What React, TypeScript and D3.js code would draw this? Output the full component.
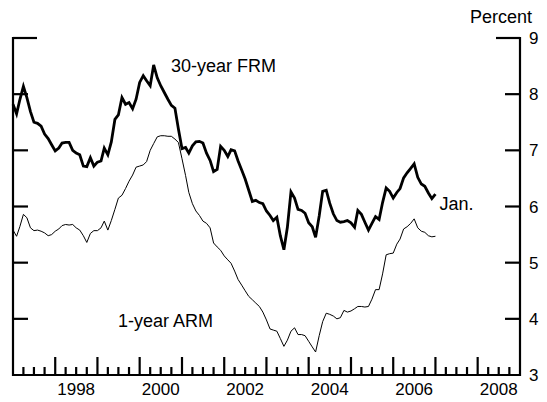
import React from 'react';
import * as d3 from 'd3';

// monthly averages, Jan 1997 .. Jan 2007
const startMonth = new Date(1997, 0, 1);

const frm = [
  7.82, 7.65, 7.90, 8.14, 7.94, 7.69, 7.50, 7.48, 7.43, 7.29, 7.21, 7.10,
  6.99, 7.04, 7.13, 7.14, 7.14, 7.00, 6.95, 6.92, 6.72, 6.71, 6.87, 6.72,
  6.79, 6.81, 7.04, 6.92, 7.15, 7.55, 7.63, 7.94, 7.82, 7.85, 7.74, 7.91,
  8.21, 8.33, 8.24, 8.15, 8.52, 8.29, 8.15, 8.03, 7.91, 7.80, 7.75, 7.38,
  7.03, 7.05, 6.95, 7.08, 7.15, 7.16, 7.13, 6.95, 6.82, 6.62, 6.66, 7.07,
  7.00, 6.89, 7.01, 6.99, 6.81, 6.65, 6.49, 6.29, 6.09, 6.11, 6.07, 6.05,
  5.92, 5.84, 5.75, 5.81, 5.48, 5.23, 5.63, 6.26, 6.15, 5.95, 5.93, 5.88,
  5.71, 5.64, 5.45, 5.83, 6.27, 6.29, 6.06, 5.87, 5.75, 5.72, 5.73, 5.75,
  5.71, 5.63, 5.93, 5.86, 5.72, 5.58, 5.70, 5.82, 5.77, 6.07, 6.33, 6.27,
  6.15, 6.25, 6.32, 6.51, 6.60, 6.68, 6.76, 6.52, 6.40, 6.36, 6.24, 6.14,
  6.22,
];

const arm = [
  5.58, 5.47, 5.64, 5.86, 5.80, 5.62, 5.57, 5.58, 5.56, 5.53, 5.48, 5.50,
  5.56, 5.60, 5.66, 5.68, 5.67, 5.68, 5.62, 5.58, 5.48, 5.36, 5.52, 5.57,
  5.57, 5.62, 5.74, 5.58, 5.75, 5.95, 6.15, 6.20, 6.32, 6.45, 6.56, 6.70,
  6.72, 6.74, 6.80, 7.00, 7.12, 7.24, 7.26, 7.26, 7.25, 7.25, 7.20, 7.14,
  6.85, 6.55, 6.25, 6.05, 5.92, 5.84, 5.74, 5.70, 5.62, 5.35, 5.28, 5.22,
  5.12, 5.05, 4.99, 4.85, 4.70, 4.60, 4.50, 4.40, 4.34, 4.28, 4.22, 4.12,
  3.98, 3.82, 3.80, 3.78, 3.65, 3.51, 3.62, 3.78, 3.84, 3.72, 3.72, 3.70,
  3.60, 3.50, 3.41, 3.70, 3.95, 4.10, 4.08, 4.05, 4.00, 4.02, 4.15, 4.12,
  4.14, 4.18, 4.22, 4.22, 4.21, 4.22, 4.35, 4.52, 4.52, 4.80, 5.14, 5.16,
  5.17, 5.33, 5.42, 5.60, 5.64, 5.70, 5.78, 5.62, 5.56, 5.54, 5.48, 5.46,
  5.47,
];

const yTicks = [3, 4, 5, 6, 7, 8, 9];
const yearLabels = [1998, 2000, 2002, 2004, 2006, 2008];

const W = 547;
const H = 402;
const left = 13;
const right = 520;
const top = 38;
const bottom = 375;
const font = 'Liberation Sans, Arial, sans-serif';

const App = () => {
  const x = d3.scaleTime()
    .domain([new Date(1997, 0, 1), new Date(2009, 0, 1)])
    .range([left, right]);
  const y = d3.scaleLinear().domain([3, 9]).range([bottom, top]);

  const dates = frm.map((_, i) => d3.timeMonth.offset(startMonth, i));
  const line = d3.line<number>()
    .x((_, i) => x(dates[i]))
    .y(d => y(d));

  // quarterly ticks, tall ones at the start of each year
  const quarters = d3.timeMonth.every(3)!
    .range(new Date(1997, 3, 1), new Date(2009, 0, 1));

  const last = frm.length - 1;

  return (
    <svg width={W} height={H} style={{ position: 'absolute', left: 0, top: 0 }}>
      <rect width={W} height={H} fill="#fff" />

      <path d={line(arm) || ''} fill="none" stroke="#000" strokeWidth={1} />
      <path d={line(frm) || ''} fill="none" stroke="#000" strokeWidth={2.8} />

      {/* frame */}
      <g stroke="#000" strokeWidth={2.2} fill="none">
        <line x1={left} x2={left} y1={top - 1} y2={bottom + 1} />
        <line x1={right} x2={right} y1={top - 1} y2={bottom + 1} />
        <line x1={left - 1} x2={right + 1} y1={bottom} y2={bottom} />
        {yTicks.filter(t => t > 3).map(t => {
          const len = t === 9 ? 24 : 15;
          return (
            <g key={t}>
              <line x1={left} x2={left + len} y1={y(t)} y2={y(t)} />
              <line x1={right - len} x2={right} y1={y(t)} y2={y(t)} />
            </g>
          );
        })}
        {quarters.map(d => {
          const len = d.getMonth() === 0 ? 18 : 8;
          return <line key={+d} x1={x(d)} x2={x(d)} y1={bottom} y2={bottom - len} />;
        })}
      </g>

      <g fontFamily={font} fontSize={17} fill="#000">
        {yTicks.map(t => (
          <text key={t} x={529} y={y(t)} dy="0.36em">{t}</text>
        ))}
        {yearLabels.map(yr => (
          <text key={yr} x={x(new Date(yr, 6, 1))} y={395} textAnchor="middle">{yr}</text>
        ))}
      </g>
      <g fontFamily={font} fontSize={18} fill="#000">
        <text x={532} y={23} textAnchor="end">Percent</text>
        <text x={171} y={72}>30-year FRM</text>
        <text x={118} y={327}>1-year ARM</text>
        <text x={x(dates[last]) + 4} y={y(6.05)} dy="0.36em">Jan.</text>
      </g>
    </svg>
  );
};

export default App;
